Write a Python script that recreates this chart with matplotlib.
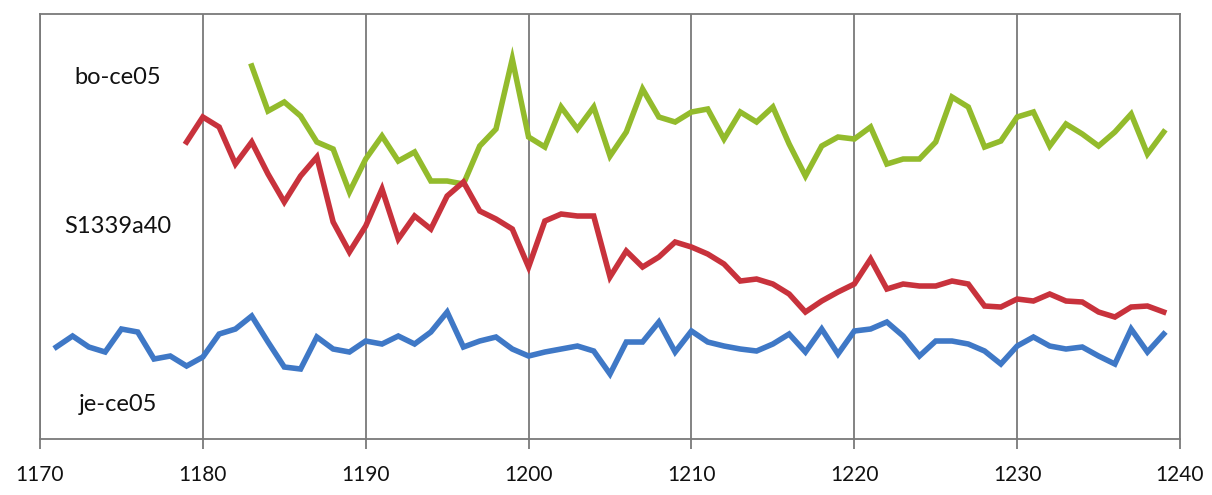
import matplotlib.pyplot as plt
import numpy as np

# values (arbitrary units, height above the x axis)
green_years = np.arange(1183, 1240)
green_vals = [373, 328, 337, 323, 297, 290, 247, 280, 303, 278, 287, 258, 258, 255,
              293, 310, 380, 302, 292, 332, 310, 332, 283, 307, 350, 322, 317, 327,
              330, 300, 327, 317, 332, 295, 263, 293, 302, 300, 312, 275, 280, 280,
              297, 342, 332, 292, 298, 322, 327, 293, 315, 305, 293, 307, 325, 285, 307]

red_years = np.arange(1179, 1240)
red_vals = [297, 322, 312, 275, 297, 265, 237, 263, 282, 217, 187, 213, 250, 200,
            223, 210, 243, 257, 228, 220, 210, 172, 218, 225, 223, 223, 162, 188,
            172, 182, 197, 192, 185, 175, 158, 160, 155, 145, 127, 138, 147, 155,
            180, 150, 155, 153, 153, 158, 155, 133, 132, 140, 138, 145, 138, 137,
            127, 122, 132, 133, 127]

blue_years = np.arange(1171, 1240)
blue_vals = [92, 103, 92, 87, 110, 107, 80, 83, 73, 82, 105, 110, 123, 97, 72, 70,
             102, 90, 87, 98, 95, 103, 95, 107, 127, 92, 98, 102, 90, 83, 87, 90,
             93, 88, 65, 97, 97, 117, 87, 108, 97, 93, 90, 88, 95, 105, 87, 110,
             85, 108, 110, 117, 103, 83, 98, 98, 95, 88, 75, 93, 102, 93, 90, 92,
             83, 75, 110, 87, 105]

labels = ['bo-ce05', 'S1339a40', 'je-ce05']
label_x = [1174.8, 1174.8, 1174.8]
label_y = [362, 213, 35]

fig = plt.figure(figsize=(12.12, 4.95), dpi=100)
ax = fig.add_axes([0.033, 0.1131, 0.9406, 0.8586])

ax.plot(green_years, green_vals, color='#93BB2C', lw=4, solid_joinstyle='miter')
ax.plot(red_years, red_vals, color='#C8323C', lw=4, solid_joinstyle='miter')
ax.plot(blue_years, blue_vals, color='#3F78C6', lw=4, solid_joinstyle='miter')

for lab, lx, ly in zip(labels, label_x, label_y):
    ax.text(lx, ly, lab, ha='center', va='center', fontsize=17,
            family='Lato', color='#111111')

ax.set_xlim(1170, 1240)
ax.set_ylim(0, 425)
ax.set_xticks(np.arange(1170, 1241, 10))
ax.set_yticks([])
ax.grid(True, axis='x', color='#7a7a7a', lw=1.3)
ax.tick_params(axis='x', direction='out', length=7, width=1.3, color='#7a7a7a',
               labelsize=15, pad=12, labelcolor='#111111')
for lab in ax.get_xticklabels():
    lab.set_family('Lato')
for s in ax.spines.values():
    s.set_color('#7a7a7a')
    s.set_linewidth(1.3)

fig.savefig('out.png', dpi=100)
